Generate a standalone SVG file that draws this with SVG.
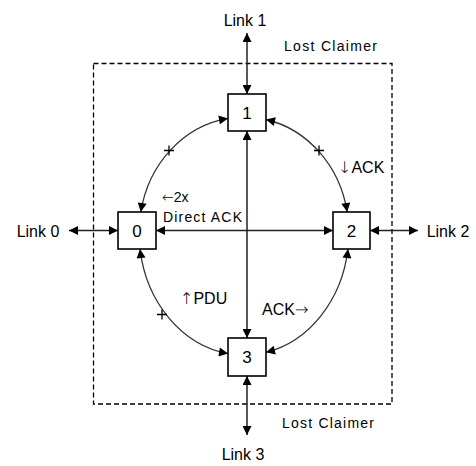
<svg xmlns="http://www.w3.org/2000/svg" width="476" height="466" viewBox="0 0 476 466">
  <defs>
    <marker id="arrow" viewBox="0 0 10 10" refX="10" refY="5" markerWidth="10" markerHeight="9" markerUnits="userSpaceOnUse" orient="auto-start-reverse">
      <path d="M0,0 L10,5 L0,10 Z" fill="#000"/>
    </marker>
  </defs>
  <style>
    text { font-family: "Liberation Sans", Arial, sans-serif; fill: #000; }
    .node rect { fill: #fff; stroke: #000; stroke-width: 1.6; }
    .node text { font-size: 17px; text-anchor: middle; }
    .link { font-size: 16px; text-anchor: middle; }
    .small { font-size: 14px; }
    .note { font-size: 16px; }
    .arw { font-family: "DejaVu Sans", sans-serif; font-weight: 300; }
    .conn { fill: none; stroke: #222; stroke-width: 1.5; marker-start: url(#arrow); marker-end: url(#arrow); }
    .arc { fill: none; stroke: #333; stroke-width: 1.3; marker-start: url(#arrow); marker-end: url(#arrow); }
    .tick { fill: none; stroke: #000; stroke-width: 1.3; }
  </style>

  <rect width="476" height="466" fill="#fff"/>

  <!-- boundary of the claimer region -->
  <rect x="93.5" y="63.5" width="298.5" height="340.5" fill="none" stroke="#000" stroke-width="1.3" stroke-dasharray="5,3"/>

  <g id="connectors">
    <!-- external links -->
    <line class="conn" x1="247" y1="33" x2="247" y2="94"/>
    <line class="conn" x1="247" y1="376" x2="247" y2="435"/>
    <line class="conn" x1="69" y1="230.5" x2="118" y2="230.5"/>
    <line class="conn" x1="370" y1="230.5" x2="418" y2="230.5"/>
    <!-- direct cross paths -->
    <line class="conn" x1="247" y1="131" x2="247" y2="338"/>
    <line class="conn" x1="156" y1="230.5" x2="333" y2="230.5"/>
    <!-- ring arcs -->
    <path class="arc" d="M228,118.4 A105,115 0 0 0 140.8,212"/>
    <path class="arc" d="M266,119.5 A105,115 0 0 1 347.2,212"/>
    <path class="arc" d="M140,249 A105,123 0 0 0 228,353.6"/>
    <path class="arc" d="M266,352.3 A105,123 0 0 0 348,249"/>
    <!-- break marks on the ring -->
    <path class="tick" d="M164,150.5 h10 M169,145.5 v10"/>
    <path class="tick" d="M314,150.5 h10 M319,145.5 v10"/>
    <path class="tick" d="M157,314.5 h10 M162,309.5 v10"/>
  </g>

  <g id="node-1" class="node">
    <rect x="228" y="94" width="38" height="37"/>
    <text x="247" y="118.5">1</text>
  </g>
  <g id="node-0" class="node">
    <rect x="118" y="212" width="38" height="37"/>
    <text x="137" y="236.5">0</text>
  </g>
  <g id="node-2" class="node">
    <rect x="333" y="212" width="37" height="37"/>
    <text x="351.5" y="236.5">2</text>
  </g>
  <g id="node-3" class="node">
    <rect x="228" y="338" width="38" height="38"/>
    <text x="247" y="363">3</text>
  </g>

  <!-- link labels -->
  <text class="link" x="245" y="26">Link 1</text>
  <text class="link" x="38" y="237">Link 0</text>
  <text class="link" x="448" y="237">Link 2</text>
  <text class="link" x="243" y="460">Link 3</text>

  <text class="small" x="284" y="51" textLength="93">Lost Claimer</text>
  <text class="small" x="282" y="428" textLength="92">Lost Claimer</text>

  <!-- message annotations -->
  <text class="small" x="162" y="202"><tspan class="arw">←</tspan>2x</text>
  <text class="small" x="163" y="222" textLength="79">Direct ACK</text>
  <text class="note" x="338" y="173"><tspan class="arw">↓</tspan>ACK</text>
  <text class="note" x="180" y="304"><tspan class="arw">↑</tspan>PDU</text>
  <text class="note" x="262" y="315">ACK<tspan class="arw">→</tspan></text>
</svg>
